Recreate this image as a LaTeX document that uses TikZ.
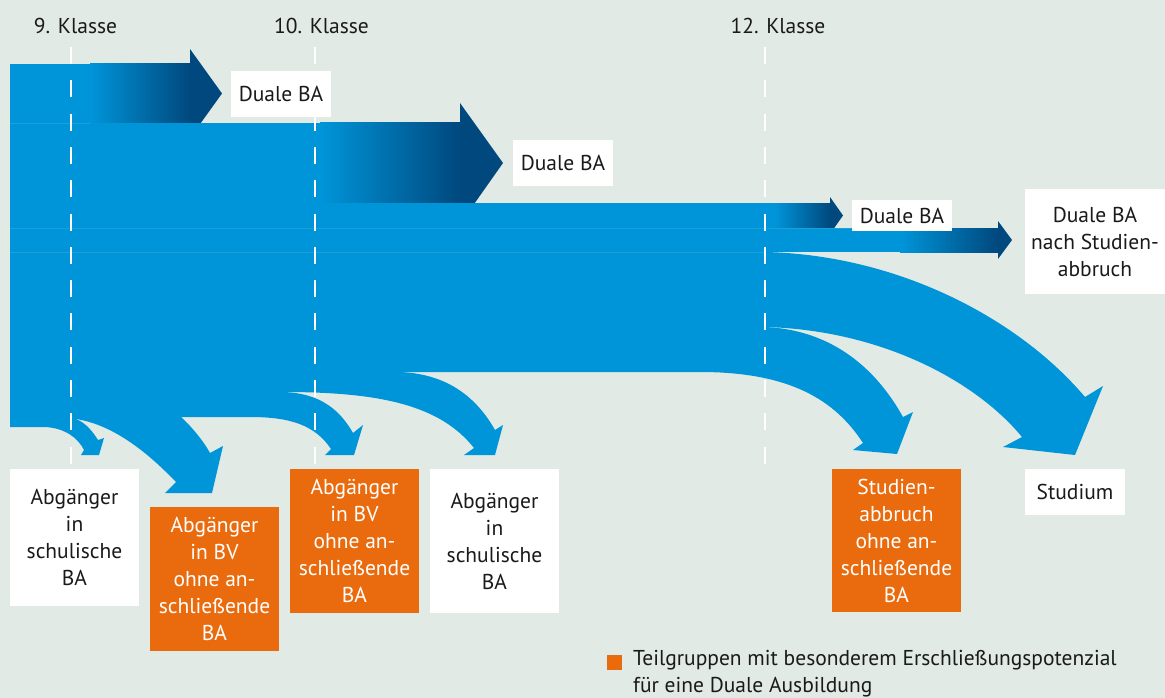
\documentclass[tikz,border=0pt]{standalone}
\usepackage{fontspec}
\setmainfont{PT Sans}
\definecolor{bgc}{RGB}{225,234,229}
\definecolor{myblue}{RGB}{0,149,217}
\definecolor{mydark}{RGB}{0,72,125}
\definecolor{myorange}{RGB}{234,107,14}
\definecolor{txt}{RGB}{26,26,26}
\tikzset{
  lab/.style={font=\fontsize{21.5}{27}\selectfont, text=txt, inner sep=0pt, align=center},
  whitebox/.style={lab, fill=white},
  orangebox/.style={lab, fill=myorange, text=white},
  flow/.style={fill=myblue},
  grad/.style={left color=myblue, right color=mydark},
  head/.style={fill=mydark},
  seam/.style={draw=myblue!90!white, line width=0.6pt},
  classline/.style={draw=white, line width=2pt, dash pattern=on 17pt off 16.3pt}
}
\begin{document}
\begin{tikzpicture}[x=1pt,y=-1pt]
\fill[bgc] (0,0) rectangle (1165,698);
\useasboundingbox (0,0) rectangle (1165,698);

% band A : Duale BA (9. Klasse)
\fill[flow] (10,64) rectangle (91,123);
\shade[grad] (90,64) rectangle (190.5,123);
\fill[head] (190,49) -- (222,93.5) -- (190,138) -- cycle;
% band B : Duale BA (10. Klasse)
\fill[flow] (10,123) rectangle (321,203);
\shade[grad] (320,123) rectangle (460.5,203);
\fill[head] (460,103) -- (503,163) -- (460,224) -- cycle;
% band C : Duale BA (12. Klasse)
\fill[flow] (10,203) rectangle (776,228);
\shade[grad] (775,203) rectangle (830.5,228);
\fill[head] (830,197) -- (843,215.5) -- (830,234) -- cycle;
% band D : Duale BA nach Studienabbruch
\fill[flow] (10,228) rectangle (901,252);
\shade[grad] (900,228) rectangle (998.5,252);
\fill[head] (998,221) -- (1012,240) -- (998,259) -- cycle;
% band E : Studium
\fill[flow] (10,252) -- (765,252) .. controls (900,255) and (1020,320) .. (1085,397)
  -- (1103,386) -- (1075,455) -- (1003,447) -- (1022,437)
  .. controls (975,380) and (880,330) .. (765,327) -- (10,327) -- cycle;
% band F : Studienabbruch
\fill[flow] (10,327) -- (765,327) .. controls (835,330) and (878,372) .. (903,417)
  -- (913,412) -- (897,454) -- (853,450) -- (863,443)
  .. controls (835,400) and (790,372) .. (700,372) -- (10,372) -- cycle;
% band G : schulische BA (10. Klasse)
\fill[flow] (10,372) -- (400,372) .. controls (450,374) and (478,400) .. (495,430)
  -- (503,425) -- (495,455) -- (464,455) -- (474,448)
  .. controls (440,405) and (380,392) .. (283,392) -- (10,392) -- cycle;
% band H : BV (10. Klasse)
\fill[flow] (10,392) -- (283,392) .. controls (320,393) and (340,410) .. (353,433)
  -- (363,425) -- (354,455) -- (325,455) -- (331,449)
  .. controls (315,425) and (290,417) .. (250,417) -- (10,417) -- cycle;
% band I : BV (9. Klasse)
\fill[flow] (10,416) -- (180,416) .. controls (190,425) and (203,440) .. (210,453)
  -- (223,446) -- (212,493) -- (165,493) -- (176,482)
  .. controls (150,455) and (115,425) .. (76,419) -- (10,419) -- cycle;
% band J : schulische BA (9. Klasse)
\fill[flow] (10,419) -- (76,419) .. controls (86,423) and (93,432) .. (98,440)
  -- (104,438) -- (99,455) -- (81,455) -- (84,450)
  .. controls (78,438) and (65,428) .. (45,427) -- (10,427) -- cycle;

% seams
\draw[seam] (10,123) -- (90,123);
\draw[seam] (10,228) -- (900,228);
\draw[seam] (10,252) -- (765,252);

% class lines
\draw[classline] (71,47) -- (71,464);
\draw[classline] (315,47) -- (315,464);
\draw[classline] (765,47) -- (765,464);

% class labels
\node[lab] (k9) at (75.5,26) {9. Klasse};
\node[lab] (k10) at (321.5,26) {10. Klasse};
\node[lab] (k12) at (778,26) {12. Klasse};

% target labels
\node[whitebox, minimum width=100pt, minimum height=46pt] (dba1) at (281,94) {Duale BA};
\node[whitebox, minimum width=100pt, minimum height=46pt] (dba2) at (563,163) {Duale BA};
\node[whitebox, minimum width=100pt, minimum height=31pt] (dba3) at (902,215.5) {Duale BA};
\node[whitebox, minimum width=140pt, minimum height=105pt] (dba4) at (1095,241.5) {Duale BA\\nach Studien-\\abbruch};
\node[whitebox, minimum width=100pt, minimum height=46pt] (stud) at (1075,492) {Studium};
\node[orangebox, minimum width=129pt, minimum height=143pt] (sab) at (896.5,540.5) {Studien-\\abbruch\\ohne an-\\schließende\\BA};
\node[whitebox, minimum width=129pt, minimum height=137pt] (sch9) at (74.5,537.5) {Abgänger\\in\\schulische\\BA};
\node[orangebox, minimum width=129pt, minimum height=144pt] (bv9) at (214.5,579) {Abgänger\\in BV\\ohne an-\\schließende\\BA};
\node[orangebox, minimum width=129pt, minimum height=144pt] (bv10) at (354.5,541) {Abgänger\\in BV\\ohne an-\\schließende\\BA};
\node[whitebox, minimum width=129pt, minimum height=144pt] (sch10) at (494.5,541) {Abgänger\\in\\schulische\\BA};

% legend
\node[fill=myorange, minimum size=15pt, inner sep=0pt] (lsq) at (614.5,662.5) {};
\node[lab, align=left, anchor=north west] (ltxt) at (633,650) {Teilgruppen mit besonderem Erschließungspotenzial\\für eine Duale Ausbildung};
\end{tikzpicture}
\end{document}
